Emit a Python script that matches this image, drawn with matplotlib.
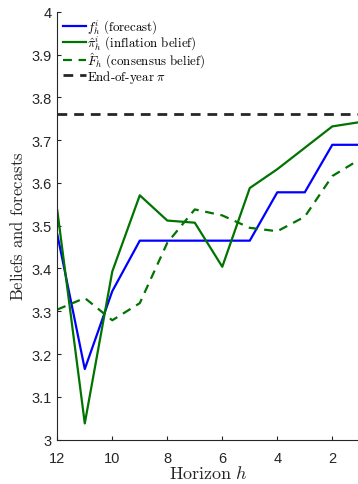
import matplotlib
matplotlib.use("Agg")
import matplotlib.pyplot as plt

plt.rcParams["mathtext.fontset"] = "cm"
plt.rcParams["font.family"] = ["Liberation Sans", "DejaVu Sans"]

horizon = [12, 11, 10, 9, 8, 7, 6, 5, 4, 3, 2, 1]
forecast = [3.48, 3.165, 3.347, 3.465, 3.465, 3.465, 3.465, 3.465, 3.578, 3.578, 3.689, 3.689]
inflation_belief = [3.536, 3.038, 3.393, 3.571, 3.512, 3.507, 3.404, 3.588, 3.632, 3.682, 3.732, 3.742]
consensus_belief = [3.304, 3.331, 3.279, 3.319, 3.46, 3.538, 3.524, 3.495, 3.487, 3.521, 3.616, 3.655]
end_of_year_pi = 3.762

yticks = [3, 3.1, 3.2, 3.3, 3.4, 3.5, 3.6, 3.7, 3.8, 3.9, 4]
xticks = [12, 10, 8, 6, 4, 2]

fig = plt.figure(figsize=(3.58, 4.85), dpi=100)
ax = fig.add_axes([0.160, 0.0914, 0.845, 0.8824])

green = (0.0, 0.45, 0.0)
ax.plot(horizon, forecast, color=(0, 0, 1), lw=1.6,
        label=r"$f^i_h\ \text{(forecast)}$")
ax.plot(horizon, inflation_belief, color=green, lw=1.6,
        label=r"$\hat{\pi}^i_h\ \text{(inflation belief)}$")
ax.plot(horizon, consensus_belief, color=green, lw=1.6, ls=(0, (4, 3)),
        label=r"$\hat{F}_h\ \text{(consensus belief)}$")
ax.axhline(end_of_year_pi, color="#262626", lw=2.0, ls=(0, (3.5, 2.5)),
           label=r"$\text{End-of-year}\ \pi$")

ax.set_xlim(12, 1)
ax.set_ylim(3, 4)
ax.set_xticks(xticks)
ax.set_yticks(yticks)
ax.set_yticklabels([f"{v:g}" for v in yticks])
ax.tick_params(direction="in", length=3, width=0.8, labelsize=10.5,
               colors="#262626")
ax.tick_params(axis="x", pad=8.5)
ax.tick_params(axis="y", pad=4)
for s in ("top", "right"):
    ax.spines[s].set_visible(False)
for s in ("left", "bottom"):
    ax.spines[s].set_color("#262626")
    ax.spines[s].set_linewidth(0.8)

ax.set_xlabel(r"$\text{Horizon}\ h$", fontsize=13, color="#262626", labelpad=0)
ax.set_ylabel(r"$\text{Beliefs and forecasts}$", fontsize=12, color="#262626", labelpad=4)

leg = ax.legend(loc="upper left", frameon=False, fontsize=9.3,
                handlelength=1.75, handletextpad=0.12, borderaxespad=0.1,
                labelspacing=-0.15, borderpad=0.35)

fig.savefig("out.png", dpi=100)
